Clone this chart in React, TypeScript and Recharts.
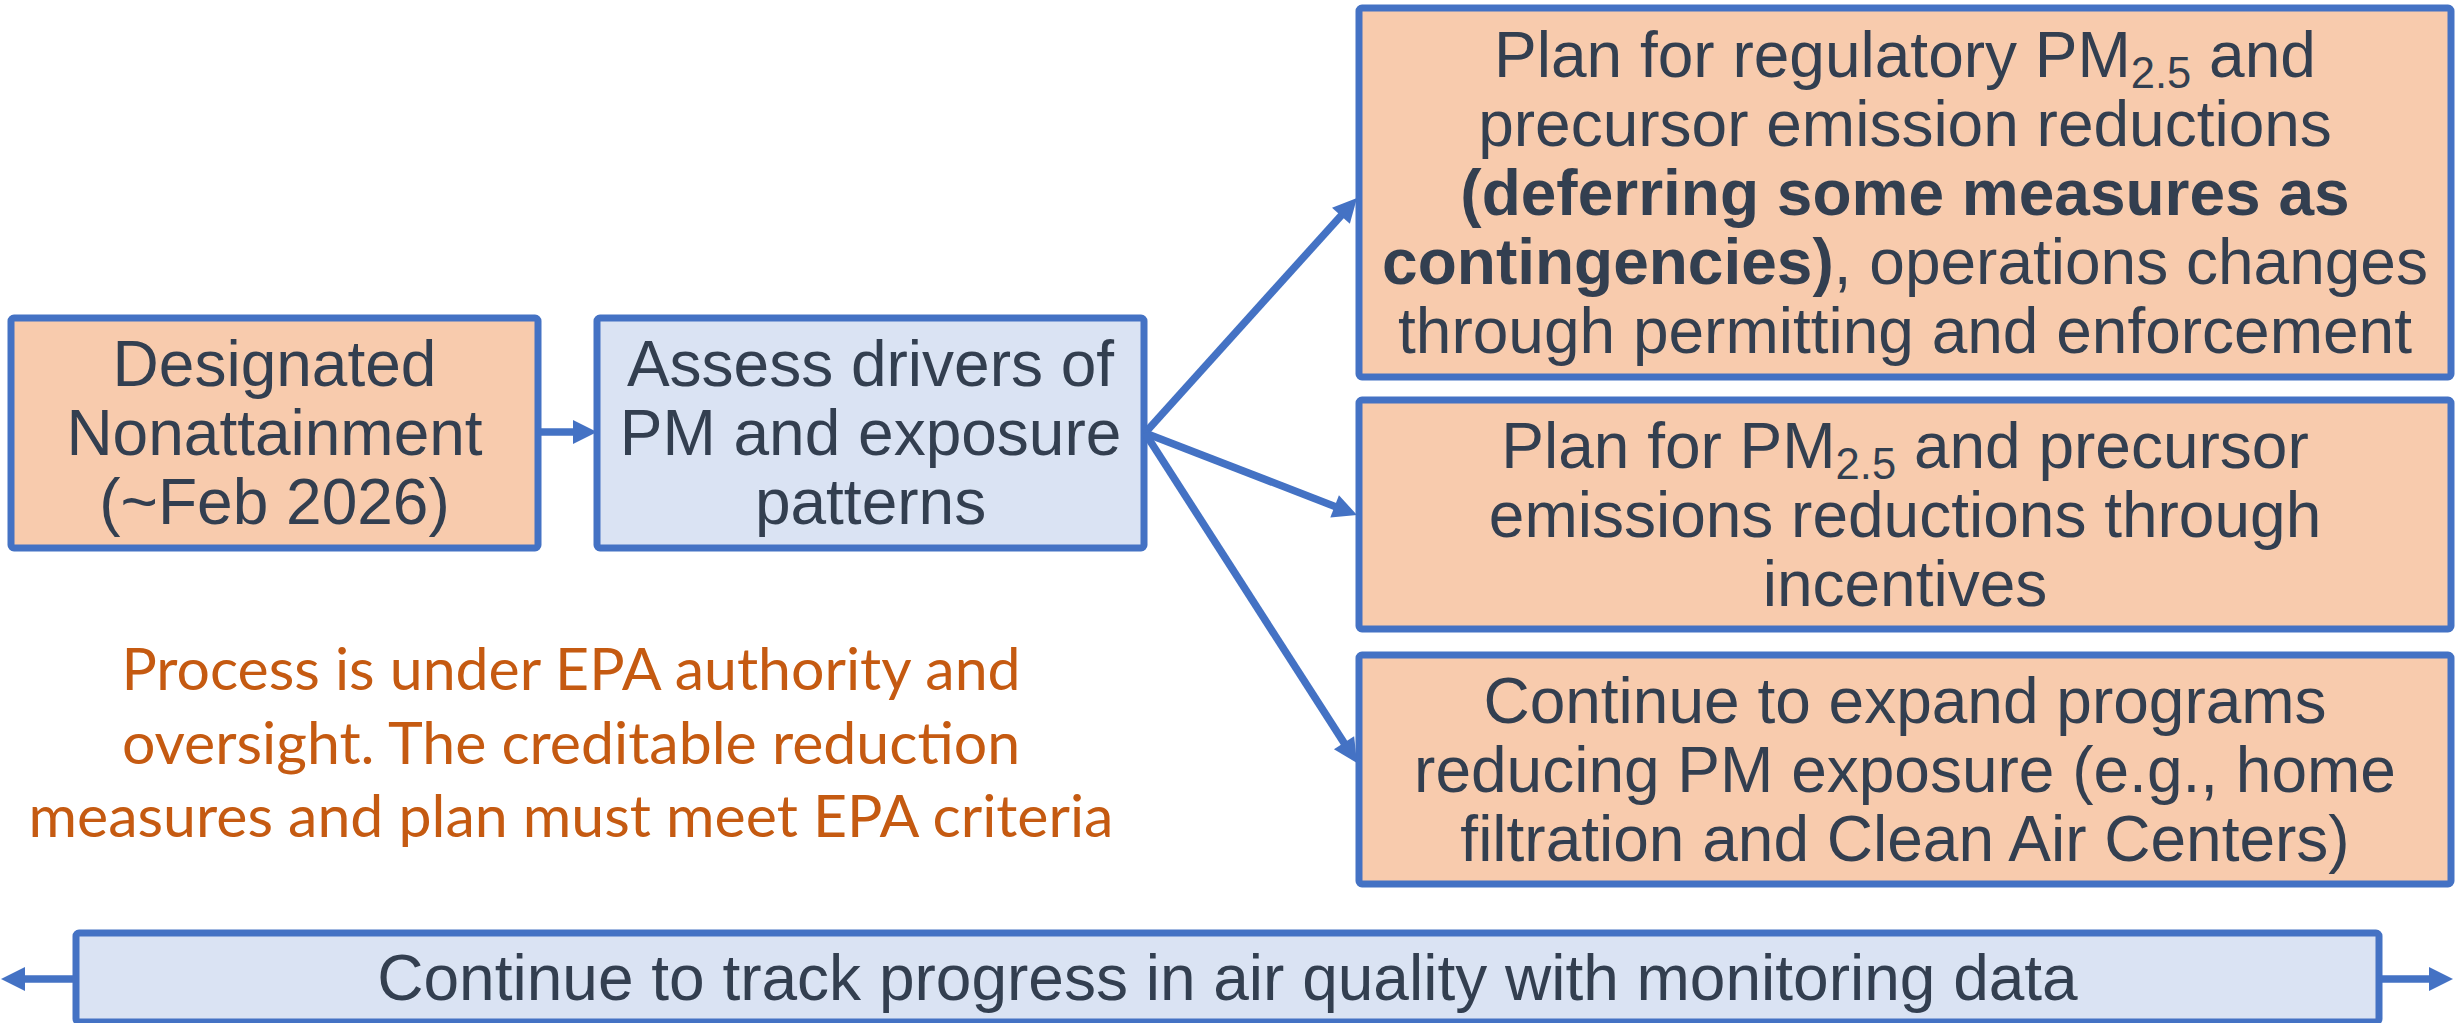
import React from 'react';
import { ComposedChart, XAxis, YAxis, ReferenceArea, ReferenceLine, Scatter } from 'recharts';

// Diagram coordinate system (units match the 2455 x 1023 canvas)
const boxIds = ['designated', 'assess', 'regulatory', 'incentives', 'exposure', 'track'];
const boxX1 = [11, 597, 1359, 1359, 1359, 76];
const boxX2 = [538, 1144, 2451, 2451, 2451, 2379];
const boxY1 = [318, 318, 8, 400, 655, 933];
const boxY2 = [548, 548, 377, 629, 884, 1022];
const boxKind = ['orange', 'blue', 'orange', 'orange', 'orange', 'blue'];

type Seg = { t: string; b?: boolean; sub?: boolean };
const boxLines: Seg[][][] = [
  [[{ t: 'Designated' }], [{ t: 'Nonattainment' }], [{ t: '(~Feb 2026)' }]],
  [[{ t: 'Assess drivers of' }], [{ t: 'PM and exposure' }], [{ t: 'patterns' }]],
  [
    [{ t: 'Plan for regulatory PM' }, { t: '2.5', sub: true }, { t: ' and' }],
    [{ t: 'precursor emission reductions' }],
    [{ t: '(deferring some measures as', b: true }],
    [{ t: 'contingencies)', b: true }, { t: ', operations changes' }],
    [{ t: 'through permitting and enforcement' }],
  ],
  [
    [{ t: 'Plan for PM' }, { t: '2.5', sub: true }, { t: ' and precursor' }],
    [{ t: 'emissions reductions through' }],
    [{ t: 'incentives' }],
  ],
  [
    [{ t: 'Continue to expand programs' }],
    [{ t: 'reducing PM exposure (e.g., home' }],
    [{ t: 'filtration and Clean Air Centers)' }],
  ],
  [[{ t: 'Continue to track progress in air quality with monitoring data' }]],
];

const arrowFromX = [540, 1145, 1145, 1145, 76, 2379];
const arrowFromY = [432, 433, 433, 433, 979, 979];
const arrowToX = [597, 1357, 1357, 1357, 1, 2453];
const arrowToY = [432, 198, 515, 763, 979, 979];

const noteLines = [
  'Process is under EPA authority and',
  'oversight. The creditable reduction',
  'measures and plan must meet EPA criteria',
];
const noteX = 571;
const noteY = [670, 744, 817];

const BLUE = '#4472C4';
const FILL: Record<string, string> = { orange: '#F8CBAD', blue: '#DAE3F3' };
const TEXT = '#333F50';
const ORANGE_TEXT = '#C55A11';
const FONT = 'Liberation Sans, Arial, sans-serif';
const FS = 64;
const LH = 69;

const anchorData = boxIds.map((id, i) => ({ id, x: (boxX1[i] + boxX2[i]) / 2, y: (boxY1[i] + boxY2[i]) / 2 }));
const noteData = noteLines.map((t, i) => ({ t, x: noteX, y: noteY[i] }));

function BoxText(props: any, lines: Seg[][]) {
  const vb = props.viewBox || {};
  const cx = vb.x + vb.width / 2;
  const cy = vb.y + vb.height / 2;
  const n = lines.length;
  return (
    <g>
      {lines.map((segs, i) => {
        const yc = cy + (i - (n - 1) / 2) * LH;
        return (
          <text key={i} x={cx} y={yc + FS * 0.35} textAnchor="middle" fontFamily={FONT} fontSize={FS} fill={TEXT}>
            {segs.map((s, j) => (
              <tspan
                key={j}
                fontWeight={s.b ? 'bold' : 'normal'}
                fontSize={s.sub ? FS * 0.68 : FS}
                baselineShift={s.sub ? '-26%' : undefined}
              >
                {s.t}
              </tspan>
            ))}
          </text>
        );
      })}
    </g>
  );
}

function ArrowShape(props: any) {
  const { x1, y1, x2, y2 } = props;
  const dx = x2 - x1;
  const dy = y2 - y1;
  const len = Math.sqrt(dx * dx + dy * dy) || 1;
  const ux = dx / len;
  const uy = dy / len;
  const hl = 24;
  const hw = 12;
  const bx = x2 - ux * hl;
  const by = y2 - uy * hl;
  const px = -uy;
  const py = ux;
  const pts = `${x2},${y2} ${bx + px * hw},${by + py * hw} ${bx - px * hw},${by - py * hw}`;
  return (
    <g>
      <line x1={x1} y1={y1} x2={x2 - ux * hl * 0.7} y2={y2 - uy * hl * 0.7} stroke={BLUE} strokeWidth={7.5} />
      <polygon points={pts} fill={BLUE} />
    </g>
  );
}

function BoxShape(props: any) {
  const { x, y, width, height, fill } = props;
  return <rect x={x} y={y} width={width} height={height} rx={3} fill={fill} stroke={BLUE} strokeWidth={7} />;
}

function NoteShape(props: any) {
  const { cx, cy, payload } = props;
  if (cx == null || cy == null) return <g />;
  return (
    <text x={cx} y={cy + 20} textAnchor="middle" fontFamily="Lato, Open Sans, sans-serif" fontSize={59} fill={ORANGE_TEXT}>
      {payload.t}
    </text>
  );
}

export default function App() {
  return (
    <div style={{ position: 'absolute', left: 0, top: 0, width: 2455, height: 1023, background: '#fff' }}>
      <ComposedChart width={2455} height={1023} margin={{ top: 0, right: 0, bottom: 0, left: 0 }} data={anchorData}>
        <XAxis type="number" dataKey="x" domain={[0, 2455]} hide allowDataOverflow />
        <YAxis type="number" dataKey="y" domain={[0, 1023]} reversed hide allowDataOverflow />
        {boxIds.map((id, i) => (
          <ReferenceArea
            key={id}
            x1={boxX1[i]}
            x2={boxX2[i]}
            y1={boxY1[i]}
            y2={boxY2[i]}
            ifOverflow="visible"
            fill={FILL[boxKind[i]]}
            fillOpacity={1}
            shape={BoxShape}
            label={(p: any) => BoxText(p, boxLines[i])}
          />
        ))}
        {arrowFromX.map((_, i) => (
          <ReferenceLine
            key={'a' + i}
            segment={[
              { x: arrowFromX[i], y: arrowFromY[i] },
              { x: arrowToX[i], y: arrowToY[i] },
            ]}
            ifOverflow="visible"
            stroke={BLUE}
            shape={ArrowShape}
          />
        ))}
        <Scatter data={noteData} dataKey="y" isAnimationActive={false} shape={NoteShape} />
      </ComposedChart>
    </div>
  );
}
